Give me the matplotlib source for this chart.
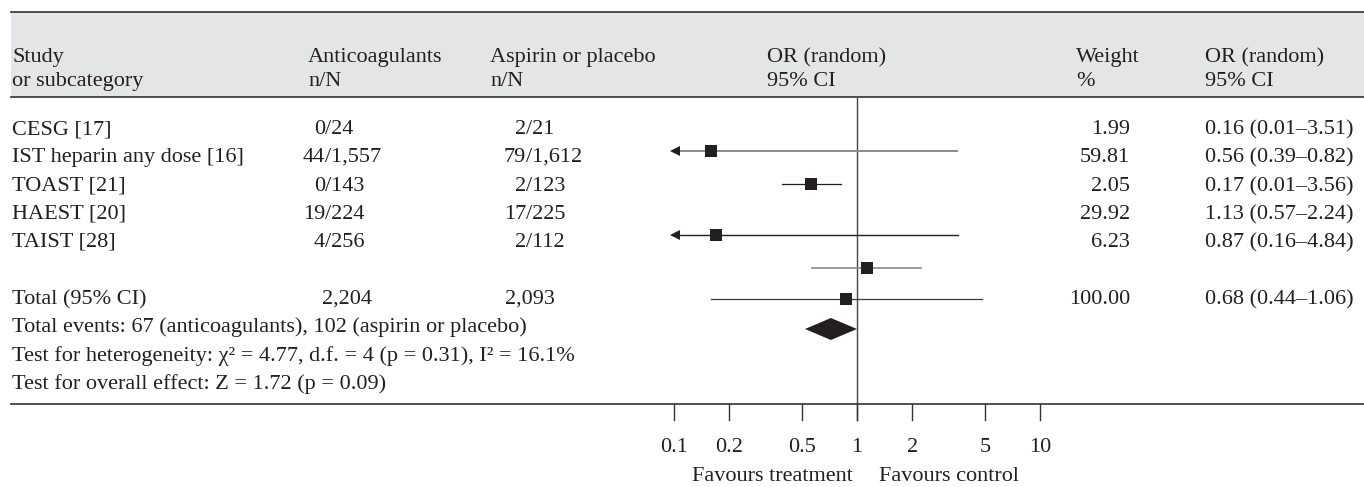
import matplotlib
matplotlib.use("Agg")
import matplotlib.pyplot as plt
from matplotlib.patches import Rectangle, Polygon

# ---------------- data ----------------
studies = ["CESG [17]", "IST heparin any dose [16]", "TOAST [21]", "HAEST [20]", "TAIST [28]"]
antico_n = ["0", "44", "0", "19", "4"]
antico_N = ["24", "1,557", "143", "224", "256"]
control_n = ["2", "79", "2", "17", "2"]
control_N = ["21", "1,612", "123", "225", "112"]
weights = [1.99, 59.81, 2.05, 29.92, 6.23]
or_est = [0.16, 0.56, 0.17, 1.13, 0.87]
ci_lo = [0.01, 0.39, 0.01, 0.57, 0.16]
ci_hi = [3.51, 0.82, 3.56, 2.24, 4.84]
total_antico = "2,204"
total_control = "2,093"
total_weight = 100.00
total_or, total_lo, total_hi = 0.68, 0.44, 1.06
diamond_drawn = [0.52, 0.72, 1.0]   # diamond as drawn in the figure (left, centre, right)
tick_values = [0.1, 0.2, 0.5, 1, 2, 5, 10]
tick_labels = ["0.1", "0.2", "0.5", "1", "2", "5", "10"]
footer_lines = [
    "Total events: 67 (anticoagulants), 102 (aspirin or placebo)",
    "Test for heterogeneity: χ² = 4.77, d.f. = 4 (p = 0.31), I² = 16.1%",
    "Test for overall effect: Z = 1.72 (p = 0.09)",
]

# ---------------- layout (pixels) ----------------
W, H = 1364, 487
FONT = "Liberation Serif"
FS = 16
TXT = "#231f20"
row_base = [134, 162, 191, 219, 247]
total_base = 304
footer_base = [332, 361, 389]
mark_y = [151, 184, 235, 268, 299]
diamond_y = 329
diamond_half = 11
arrow_tip = 0.095
line_cols = ["#8a8a8a", "#231f20", "#231f20", "#8a8a8a", "#3a3a3a"]
line_w = [1.4, 0.9, 1.0, 1.2, 0.9]

plt.rcParams["font.family"] = [FONT, "DejaVu Serif"]

fig = plt.figure(figsize=(W / 100, H / 100), dpi=100)
bg = fig.add_axes([0, 0, 1, 1])
bg.set_xlim(0, W)
bg.set_ylim(H, 0)
bg.axis("off")


def t(x, y, s, ha="left", ax=bg):
    ax.text(x, y, s, ha=ha, va="baseline", fontsize=FS, color=TXT,
            family=[FONT, "DejaVu Serif"], clip_on=False)


# header band and rules
bg.add_patch(Rectangle((11, 12), W - 11, 85, facecolor="#e4e5e6", edgecolor="none", zorder=0))
bg.plot([11, W], [12, 12], color="#333333", lw=1.2)
bg.plot([11, W], [97, 97], color="#333333", lw=1.2)
bg.plot([11, W], [404, 404], color="#333333", lw=1.2)

hdr1, hdr2 = 62, 86
t(12, hdr1, "Study"); t(12, hdr2, "or subcategory")
t(308, hdr1, "Anticoagulants"); t(308, hdr2, "n/N")
t(490, hdr1, "Aspirin or placebo"); t(490, hdr2, "n/N")
t(767, hdr1, "OR (random)"); t(767, hdr2, "95% CI")
t(1076, hdr1, "Weight"); t(1076, hdr2, "%")
t(1205, hdr1, "OR (random)"); t(1205, hdr2, "95% CI")

slash_a, slash_c = 325, 526
for i, name in enumerate(studies):
    y = row_base[i]
    t(12, y, name)
    t(slash_a, y, antico_n[i], ha="right"); t(slash_a, y, "/" + antico_N[i])
    t(slash_c, y, control_n[i], ha="right"); t(slash_c, y, "/" + control_N[i])
    t(1130, y, f"{weights[i]:.2f}", ha="right")
    t(1205, y, f"{or_est[i]:.2f} ({ci_lo[i]:.2f}–{ci_hi[i]:.2f})")

t(12, total_base, "Total (95% CI)")
t(322, total_base, total_antico)
t(505, total_base, total_control)
t(1130, total_base, f"{total_weight:.2f}", ha="right")
t(1205, total_base, f"{total_or:.2f} ({total_lo:.2f}–{total_hi:.2f})")
for y, s in zip(footer_base, footer_lines):
    t(12, y, s)

t(853, 481, "Favours treatment", ha="right")
t(879, 481, "Favours control")

# ---------------- forest axes (log OR scale) ----------------
fx = fig.add_axes([674 / W, 0, (1040 - 674) / W, 1])
fx.set_xscale("log")
fx.set_xlim(0.1, 10)
fx.set_ylim(H, 0)
fx.axis("off")
fx.patch.set_alpha(0)

fx.plot([1, 1], [97, 420], color="#444444", lw=1.0, clip_on=False)
for v, lab in zip(tick_values, tick_labels):
    fx.plot([v, v], [404, 420], color="#333333", lw=1.0, clip_on=False)
    t(v, 452, lab, ha="center", ax=fx)

for i in range(len(or_est)):
    y = mark_y[i]
    lo, hi = ci_lo[i], ci_hi[i]
    if lo < 0.1:
        fx.plot([arrow_tip * 1.05, hi], [y, y], color=line_cols[i], lw=line_w[i], clip_on=False)
        fx.plot([arrow_tip * 1.068], [y], marker="<", ms=7.5, color="#231f20", mew=0,
                clip_on=False, zorder=5)
    else:
        fx.plot([lo, hi], [y, y], color=line_cols[i], lw=line_w[i], clip_on=False)
    fx.plot([or_est[i]], [y], marker="s", ms=8.6, color="#231f20", mew=0, clip_on=False, zorder=5)

dl, dm, dr = diamond_drawn
fx.add_patch(Polygon([(dl, diamond_y), (dm, diamond_y - diamond_half), (dr, diamond_y),
                      (dm, diamond_y + diamond_half)], closed=True, facecolor="#231f20",
                     edgecolor="none", clip_on=False, zorder=5))

fig.savefig("out.png", dpi=100)
